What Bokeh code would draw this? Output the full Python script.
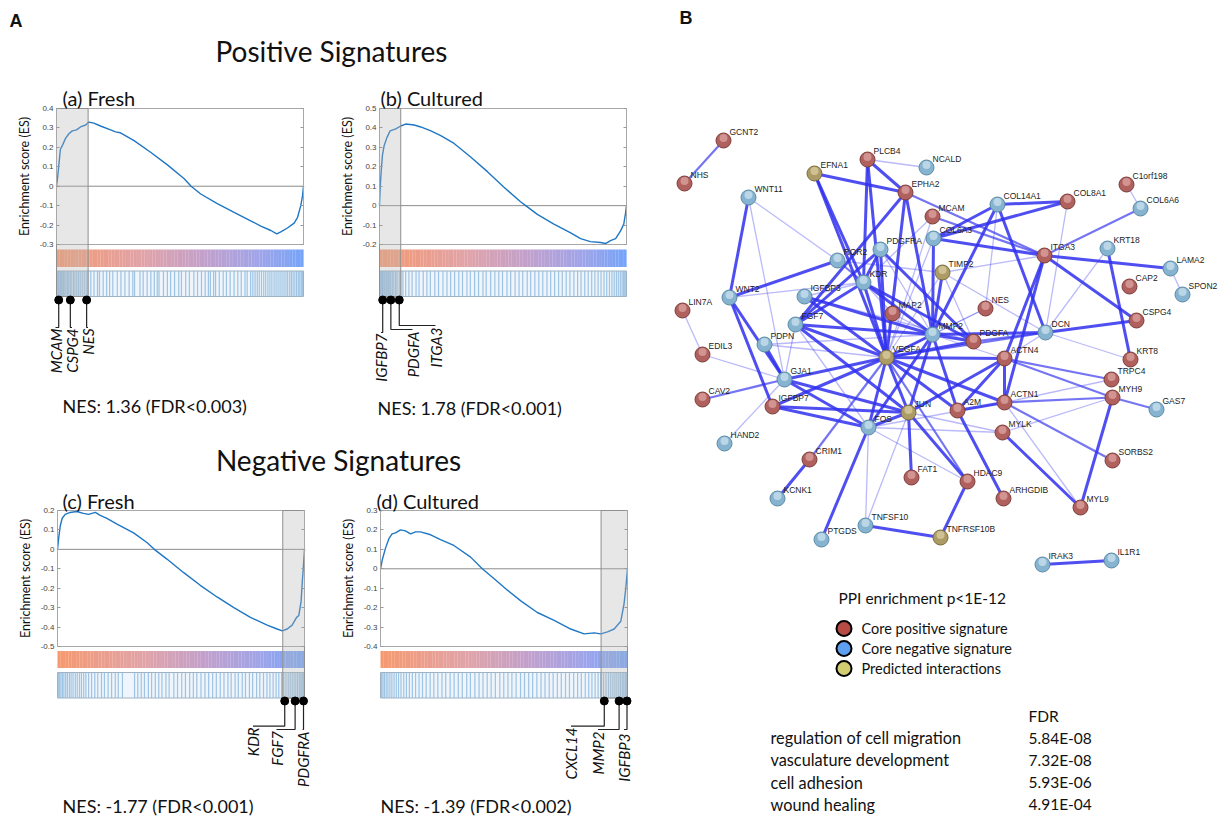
import math
from bokeh.plotting import figure
from bokeh.models import Range1d, LinearAxis, FixedTicker
from bokeh.core.properties import value
from bokeh.embed import file_html
from bokeh.resources import INLINE

W, H = 1225, 817
CAL = "Lato"
ARI = "Liberation Sans"

# ---------------- GSEA running enrichment scores (rank % of ordered list, ES) ----------------
a_rank = [0, 0.5, 1.1, 1.6, 2.4, 3.6, 5.0, 6.4, 8.1, 9.7, 11.8, 13.1, 15.1, 17.8, 21.9, 23.9, 25.9, 31.4,
          38.1, 44.9, 51.6, 54.5, 58.4, 65.1, 71.9, 78.6, 82.7, 86.8, 89.2, 90.8, 93.5, 96.2, 97.6, 98.9, 99.6, 100]
a_es = [0, 0.05, 0.13, 0.19, 0.21, 0.245, 0.27, 0.285, 0.29, 0.305, 0.315, 0.33, 0.325, 0.31, 0.29, 0.28, 0.275, 0.235,
        0.175, 0.11, 0.04, 0.0, -0.04, -0.09, -0.135, -0.178, -0.205, -0.228, -0.245, -0.235, -0.215, -0.19, -0.16, -0.1, -0.05, 0]

b_rank = [0, 0.3, 0.7, 1.2, 1.9, 3.0, 4.3, 6.6, 8.6, 10.6, 14.0, 16.7, 20.8, 24.8, 30.2, 36.9, 43.7, 50.4, 57.1,
          59.2, 63.9, 70.6, 77.4, 81.4, 85.4, 89.5, 91.5, 93.5, 95.6, 97.6, 98.9, 99.6, 100]
b_es = [0, 0.10, 0.18, 0.26, 0.31, 0.35, 0.385, 0.395, 0.41, 0.42, 0.415, 0.405, 0.385, 0.36, 0.32, 0.25, 0.175, 0.095, 0.02,
        0.0, -0.045, -0.095, -0.14, -0.17, -0.185, -0.19, -0.195, -0.18, -0.17, -0.13, -0.095, -0.04, 0]

c_rank = [0, 0.4, 1.1, 1.9, 3.1, 5.1, 7.8, 10.5, 12.6, 15.3, 17.3, 20.0, 24.1, 30.8, 36.2, 39.2, 44.3, 51.1, 57.8,
          64.6, 71.4, 78.1, 84.9, 88.9, 91.0, 93.0, 95.0, 96.8, 97.7, 98.6, 99.2, 99.5, 100]
c_es = [0, 0.05, 0.12, 0.16, 0.18, 0.19, 0.195, 0.185, 0.18, 0.19, 0.175, 0.16, 0.13, 0.085, 0.035, 0.0, -0.05, -0.12, -0.185,
        -0.245, -0.30, -0.35, -0.39, -0.41, -0.42, -0.41, -0.39, -0.35, -0.34, -0.27, -0.15, -0.1, 0]

d_rank = [0, 0.7, 2.0, 3.4, 4.7, 6.1, 8.1, 10.1, 12.2, 14.2, 16.2, 20.3, 24.3, 29.7, 36.5, 41.2, 45.9, 51.4, 56.8,
          63.5, 70.3, 77.0, 82.4, 86.5, 89.2, 91.9, 94.6, 97.3, 98.6, 99.3, 100]
d_es = [0, 0.045, 0.105, 0.155, 0.18, 0.185, 0.2, 0.195, 0.18, 0.19, 0.19, 0.175, 0.15, 0.12, 0.06, 0.0, -0.05, -0.11, -0.165,
        -0.225, -0.265, -0.31, -0.335, -0.33, -0.335, -0.325, -0.31, -0.27, -0.18, -0.1, 0]

# gene-set hit positions (rank %)
a_hits = [0.3, 0.7, 1.1, 1.6, 2.0, 2.5, 2.9, 3.4, 3.9, 4.5, 5.0, 5.6, 6.2, 6.9, 7.5, 8.2, 8.9, 9.6, 10.4, 11.2, 12.0, 12.7,
          13.9, 15.2, 16.6, 17.4, 18.9, 20.3, 21.5, 22.8, 24.6, 26.1, 27.7, 29.4, 30.9, 31.6, 33.8, 35.1, 36.7, 38.2,
          39.6, 40.8, 41.5, 43.3, 44.9, 46.2, 47.8, 49.5, 50.6, 52.3, 53.8, 55.6, 57.1, 58.7, 60.2, 61.5, 62.3, 63.6,
          64.4, 65.9, 67.5, 68.8, 70.3, 71.9, 73.4, 74.8, 76.3, 77.2, 78.6, 79.5, 80.4, 81.3, 82.1, 83.0, 83.9, 84.7,
          85.6, 86.4, 87.2, 88.1, 88.9, 89.7, 90.5, 91.3, 92.1, 92.9, 93.6, 94.4, 95.1, 95.8, 96.5, 97.2, 97.9, 98.5, 99.1, 99.6]
b_hits = [0.2, 0.6, 1.0, 1.3, 1.8, 2.2, 2.7, 3.1, 3.6, 4.1, 4.6, 5.2, 5.8, 6.5, 7.1, 8.0, 8.7, 9.5, 10.6, 11.9, 13.2,
          14.8, 16.0, 17.7, 19.2, 20.6, 22.4, 23.9, 25.7, 27.3, 28.8, 30.4, 32.1, 33.6, 35.4, 36.8, 38.5, 40.1, 41.9,
          43.2, 45.0, 46.7, 48.3, 49.8, 51.6, 53.1, 54.9, 56.5, 58.0, 59.8, 61.2, 62.9, 64.5, 66.1, 67.8, 69.3, 70.9,
          72.5, 74.0, 75.6, 77.1, 78.7, 80.2, 81.6, 83.1, 84.5, 85.9, 87.2, 88.5, 89.7, 90.9, 92.0, 93.1, 94.1, 95.0,
          95.9, 96.7, 97.5, 98.2, 98.8, 99.3, 99.8]
c_hits = [0.3, 0.8, 1.4, 2.0, 2.6, 3.3, 4.0, 4.8, 5.5, 6.3, 7.2, 8.0, 8.9, 9.7, 10.6, 11.5, 12.6, 13.8, 15.1, 16.3,
          17.8, 19.0, 20.5, 21.9, 23.4, 24.6, 26.3, 31.2, 32.5, 33.9, 35.2, 36.8, 38.1, 39.6, 41.0, 42.3, 43.9, 45.2,
          47.1, 48.6, 50.3, 51.8, 53.5, 55.0, 56.4, 58.1, 59.7, 61.2, 62.8, 64.3, 65.9, 67.4, 69.0, 70.3, 71.9, 73.2,
          74.8, 76.1, 77.7, 79.0, 80.6, 81.9, 83.4, 84.8, 86.0, 87.3, 88.5, 89.6, 90.7, 91.6, 92.5, 93.4, 94.2, 95.0,
          95.8, 96.5, 97.2, 97.9, 98.5, 99.0, 99.5, 99.9]
d_hits = [0.4, 1.0, 1.6, 2.3, 3.0, 3.8, 4.6, 5.5, 6.4, 7.3, 8.3, 9.4, 10.5, 11.7, 12.9, 14.2, 15.6, 17.0, 18.5, 20.1,
          21.6, 23.2, 24.9, 26.4, 28.2, 29.8, 31.5, 33.1, 34.9, 36.4, 38.2, 39.9, 41.5, 43.2, 44.8, 46.5, 48.3, 49.9,
          51.6, 53.2, 54.9, 56.7, 58.3, 60.0, 61.6, 63.3, 65.0, 66.6, 68.3, 69.9, 71.6, 73.2, 74.9, 76.5, 78.2, 79.8,
          81.3, 82.9, 84.3, 85.6, 86.9, 88.1, 89.2, 90.3, 91.3, 92.3, 93.2, 94.1, 94.9, 95.7, 96.5, 97.2, 97.9, 98.5, 99.1, 99.6]

a_genes, a_gene_rank = ["MCAM", "CSPG4", "NES"], [0.9, 5.6, 12.2]
b_genes, b_gene_rank = ["IGFBP7", "PDGFA", "ITGA3"], [1.3, 4.6, 8.0]
c_genes, c_gene_rank = ["KDR", "FGF7", "PDGFRA"], [92.0, 96.2, 99.6]
d_genes, d_gene_rank = ["CXCL14", "MMP2", "IGFBP3"], [90.6, 96.6, 99.8]

a_lead = [0, 12.8]
b_lead = [0, 8.6]
c_lead = [91.2, 100]
d_lead = [89.3, 100]

titles = ["(a) Fresh", "(b) Cultured", "(c) Fresh", "(d) Cultured"]
nes_texts = ["NES: 1.36 (FDR<0.003)", "NES: 1.78 (FDR<0.001)", "NES: -1.77 (FDR<0.001)", "NES: -1.39 (FDR<0.002)"]
es_limits = [(0.4, -0.3), (0.5, -0.2), (0.2, -0.5), (0.3, -0.4)]

# ---------------- network ----------------
node_name = ["GCNT2", "NHS", "PLCB4", "NCALD", "EFNA1", "EPHA2", "C1orf198", "WNT11", "COL14A1", "COL8A1", "COL6A6",
             "MCAM", "COL6A3", "PDGFRA", "ROR2", "TIMP2", "ITGA3", "KRT18", "LAMA2", "KDR", "WNT2", "IGFBP3", "LIN7A",
             "CAP2", "SPON2", "MAP2", "FGF7", "NES", "MMP2", "PDGFA", "DCN", "CSPG4", "PDPN", "VEGFA", "ACTN4", "EDIL3",
             "KRT8", "GJA1", "TRPC4", "MYH9", "CAV2", "IGFBP7", "JUN", "A2M", "ACTN1", "FOS", "MYLK", "GAS7", "HAND2",
             "CRIM1", "HDAC9", "FAT1", "SORBS2", "ARHGDIB", "KCNK1", "MYL9", "TNFSF10", "TNFRSF10B", "PTGDS", "IRAK3", "IL1R1"]
node_x = [723, 684, 867, 926, 814, 905, 1126, 748, 997, 1067, 1140,
          932, 933, 880, 837, 942, 1044, 1107, 1170, 863, 729, 804, 682,
          1129, 1182, 892, 795, 985, 932, 973, 1045, 1136, 764, 886, 1004, 702,
          1130, 784, 1111, 1112, 702, 772, 908, 957, 1004, 868, 1002, 1156, 724,
          809, 967, 911, 1112, 1003, 777, 1080, 865, 940, 821, 1042, 1111]
node_y = [140, 183, 159, 167, 173, 192, 184, 197, 204, 201, 208,
          216, 238, 249, 260, 272, 255, 248, 268, 282, 297, 296, 310,
          286, 294, 313, 324, 308, 334, 341, 332, 320, 344, 357, 358, 354,
          359, 379, 379, 397, 399, 406, 412, 410, 402, 427, 432, 409, 443,
          459, 481, 477, 460, 498, 498, 507, 525, 537, 539, 564, 560]
node_group = ["pos", "pos", "pos", "neg", "pred", "pos", "pos", "neg", "neg", "pos", "neg",
              "pos", "neg", "neg", "neg", "pred", "pos", "neg", "neg", "neg", "neg", "neg", "pos",
              "pos", "neg", "pos", "neg", "pos", "neg", "pos", "neg", "pos", "neg", "pred", "pos", "pos",
              "pos", "neg", "pos", "pos", "pos", "pos", "pred", "pos", "pos", "neg", "pos", "neg", "neg",
              "pos", "pos", "pos", "pos", "pos", "neg", "pos", "neg", "pred", "neg", "neg", "neg"]

edges_strong = [
    ("PLCB4", "EPHA2"), ("PLCB4", "KDR"), ("PLCB4", "VEGFA"), ("EFNA1", "EPHA2"), ("EFNA1", "KDR"), ("EFNA1", "VEGFA"),
    ("EPHA2", "VEGFA"), ("EPHA2", "FGF7"), ("EPHA2", "MMP2"), ("WNT11", "WNT2"), ("WNT2", "ROR2"), ("WNT2", "GJA1"),
    ("WNT2", "IGFBP7"), ("PDGFRA", "VEGFA"), ("PDGFRA", "PDGFA"), ("PDGFRA", "FGF7"), ("PDGFRA", "KDR"),
    ("KDR", "VEGFA"), ("KDR", "MMP2"), ("KDR", "PDGFA"), ("KDR", "FGF7"), ("IGFBP3", "MMP2"), ("IGFBP3", "VEGFA"),
    ("FGF7", "VEGFA"), ("FGF7", "JUN"), ("FGF7", "MMP2"), ("PDPN", "GJA1"), ("GJA1", "VEGFA"), ("GJA1", "JUN"),
    ("GJA1", "FOS"), ("IGFBP7", "FOS"), ("IGFBP7", "JUN"), ("IGFBP7", "VEGFA"), ("CRIM1", "KCNK1"), ("FOS", "PTGDS"),
    ("FOS", "JUN"), ("FOS", "VEGFA"), ("FOS", "MMP2"), ("JUN", "FAT1"), ("JUN", "HDAC9"), ("JUN", "VEGFA"),
    ("JUN", "MMP2"), ("JUN", "ACTN4"), ("TNFSF10", "TNFRSF10B"), ("TNFRSF10B", "HDAC9"), ("A2M", "ARHGDIB"),
    ("A2M", "ACTN1"), ("A2M", "ACTN4"), ("A2M", "MMP2"), ("A2M", "VEGFA"), ("ACTN4", "ACTN1"), ("ACTN4", "VEGFA"),
    ("ACTN4", "ITGA3"), ("ACTN1", "ITGA3"), ("ACTN1", "VEGFA"), ("MYLK", "MYL9"), ("MYH9", "MYL9"), ("DCN", "CSPG4"),
    ("DCN", "COL14A1"), ("DCN", "MMP2"), ("ITGA3", "LAMA2"), ("ITGA3", "CSPG4"), ("ITGA3", "COL6A3"), ("KRT18", "KRT8"),
    ("COL14A1", "COL8A1"), ("COL14A1", "COL6A3"), ("COL14A1", "MMP2"), ("COL8A1", "COL6A3"), ("COL6A3", "MMP2"),
    ("TIMP2", "MMP2"), ("MMP2", "VEGFA"), ("MMP2", "PDGFA"), ("PDGFA", "VEGFA"), ("IRAK3", "IL1R1")]
edges_medium = [
    ("GCNT2", "NHS"), ("CAV2", "GJA1"), ("CRIM1", "VEGFA"), ("ACTN4", "TRPC4"), ("ACTN4", "MYH9"), ("ACTN1", "MYH9"),
    ("ACTN1", "SORBS2"), ("MYH9", "GAS7"), ("ITGA3", "COL6A6"), ("ROR2", "KDR"), ("EPHA2", "ITGA3"), ("MCAM", "ITGA3"),
    ("PDGFA", "DCN"), ("VEGFA", "DCN"), ("HDAC9", "VEGFA")]
edges_weak = [
    ("PLCB4", "NCALD"), ("WNT11", "ROR2"), ("WNT11", "GJA1"), ("WNT2", "KDR"), ("LIN7A", "EDIL3"), ("EDIL3", "GJA1"),
    ("HAND2", "GJA1"), ("PDPN", "VEGFA"), ("PDPN", "MMP2"), ("FGF7", "FOS"), ("FGF7", "GJA1"), ("IGFBP3", "KDR"),
    ("IGFBP3", "PDGFA"), ("FOS", "TNFSF10"), ("JUN", "TNFSF10"), ("FOS", "ACTN1"), ("FOS", "MYLK"), ("JUN", "MYLK"),
    ("ACTN1", "TRPC4"), ("ACTN1", "MYL9"), ("MYLK", "MYH9"), ("DCN", "KRT8"), ("DCN", "KRT18"), ("COL8A1", "DCN"),
    ("TIMP2", "DCN"), ("TIMP2", "ITGA3"), ("TIMP2", "VEGFA"), ("TIMP2", "PDGFA"), ("COL14A1", "NES"), ("LAMA2", "SPON2"),
    ("C1orf198", "COL6A6"), ("MCAM", "VEGFA"), ("MCAM", "KDR"), ("ROR2", "TIMP2"), ("MAP2", "MMP2"), ("MAP2", "VEGFA"),
    ("NES", "MMP2"), ("NES", "VEGFA"), ("COL6A3", "VEGFA"), ("PDGFRA", "MMP2"), ("FOS", "HDAC9"), ("ACTN4", "DCN"),
    ("MMP2", "ACTN4"), ("MAP2", "KDR")]

legend_labels = ["Core positive signature", "Core negative signature", "Predicted interactions"]
go_terms = ["regulation of cell migration", "vasculature development", "cell adhesion", "wound healing"]
go_fdr = ["5.84E-08", "7.32E-08", "5.93E-06", "4.91E-04"]

# ---------------- figure ----------------
p = figure(width=W, height=H, x_range=Range1d(0, W), y_range=Range1d(H, 0), output_backend="svg",
           toolbar_location=None, x_axis_type=None, y_axis_type=None, min_border=0)
p.outline_line_color = None
p.background_fill_color = "white"
p.border_fill_color = "white"


def txt(x, y, s, size, font=CAL, align="left", baseline="middle", color="#111111", style="normal", angle=0.0, **kw):
    p.text(x=[x], y=[y], text=[s], text_font=value(font), text_font_size=f"{size}px", text_align=align,
           text_baseline=baseline, text_color=color, text_font_style=style, angle=angle, **kw)


def cb_color(t):
    stops = [(0.0, (246, 153, 112)), (0.35, (224, 163, 168)), (0.6, (194, 160, 204)), (0.82, (160, 164, 232)),
             (1.0, (118, 164, 248))]
    for (t0, c0), (t1, c1) in zip(stops[:-1], stops[1:]):
        if t <= t1:
            f = (t - t0) / (t1 - t0)
            return "#%02x%02x%02x" % tuple(int(round(c0[i] + f * (c1[i] - c0[i]))) for i in range(3))
    return "#%02x%02x%02x" % stops[-1][1]


# layout of the four panels (page pixels)
panel_layout = [
    dict(key="a", box=(56, 303, 108, 244), cb=(249, 266.5), bc=(270.5, 296), dot=299.5, title=(62, 97), nes=(62, 405),
         labels=[(55, 327, 328), (71.5, 327, 328), (87.5, 327, 328)]),
    dict(key="b", box=(379, 626, 108, 244), cb=(249, 266.5), bc=(270.5, 296), dot=299.5, title=(380, 97), nes=(377, 407),
         labels=[(380.5, 332, 333), (412, 329, 331), (435, 325, 327)]),
    dict(key="c", box=(57, 304, 510, 646), cb=(650.5, 667.5), bc=(672, 697.5), dot=700.5, title=(62, 500), nes=(62, 805),
         labels=[(252.5, 725.7, 727), (276, 729, 730.5), (302, 729, 731)]),
    dict(key="d", box=(380, 627, 510, 646), cb=(650.5, 667.5), bc=(672, 697.5), dot=700.5, title=(376, 500), nes=(380, 805),
         labels=[(570.5, 725.7, 727), (597.5, 729, 731), (623.5, 729, 733)]),
]
curves = [(a_rank, a_es), (b_rank, b_es), (c_rank, c_es), (d_rank, d_es)]
hits_all = [a_hits, b_hits, c_hits, d_hits]
genes_all = [(a_genes, a_gene_rank), (b_genes, b_gene_rank), (c_genes, c_gene_rank), (d_genes, d_gene_rank)]
leads = [a_lead, b_lead, c_lead, d_lead]

p.extra_x_ranges = {}
p.extra_y_ranges = {}
for i, L in enumerate(panel_layout):
    key = L["key"]
    x0, x1, y0, y1 = L["box"]
    es_top, es_bot = es_limits[i]
    kx = 100.0 / (x1 - x0)
    ky = (es_top - es_bot) / (y1 - y0)
    px2r = lambda px, x0=x0, kx=kx: (px - x0) * kx
    py2e = lambda py, y0=y0, ky=ky, t=es_top: t - (py - y0) * ky
    p.extra_x_ranges[key] = Range1d(px2r(0), px2r(W))
    p.extra_y_ranges[key] = Range1d(py2e(H), py2e(0))
    kw = dict(x_range_name=key, y_range_name=key)

    # colour bar
    n = 90
    p.quad(left=[100.0 * j / n for j in range(n)], right=[100.0 * (j + 1) / n + 0.05 for j in range(n)],
           top=py2e(L["cb"][0]), bottom=py2e(L["cb"][1]), fill_color=[cb_color(j / (n - 1)) for j in range(n)],
           line_color=None, **kw)
    # barcode
    hits = hits_all[i]
    p.quad(left=[0], right=[100], top=[py2e(L["bc"][0])], bottom=[py2e(L["bc"][1])], fill_color="#e4eff8",
           fill_alpha=0.6, line_color=None, **kw)
    p.segment(x0=hits, y0=[py2e(L["bc"][0])] * len(hits), x1=hits, y1=[py2e(L["bc"][1])] * len(hits),
              line_color="#5b9bd0", line_alpha=0.55, line_width=1.2, **kw)
    p.quad(left=[0], right=[100], top=[py2e(L["bc"][0])], bottom=[py2e(L["bc"][1])], fill_color=None,
           line_color="#9fb3c4", line_width=1, **kw)
    # box top/bottom and zero line
    p.segment(x0=[0, 0], x1=[100, 100], y0=[es_top, es_bot], y1=[es_top, es_bot], line_color="#a8a8a8",
              line_width=1, **kw)
    p.segment(x0=[0], x1=[100], y0=[0], y1=[0], line_color="#8c8c8c", line_width=1, **kw)
    # ES curve
    rk, es = curves[i]
    p.line(rk, es, line_color="#1f77c4", line_width=1.4, **kw)
    # leading-edge shading
    lo, hi = leads[i]
    p.quad(left=[lo], right=[hi], top=[es_top], bottom=[py2e(L["bc"][1])], fill_color="#b5b5b5", fill_alpha=0.33,
           line_color="#8f8f8f", line_width=1, **kw)
    # axes
    ticks = [round(es_bot + 0.1 * k, 1) for k in range(int(round((es_top - es_bot) * 10)) + 1)]
    overrides = {t: ("0" if abs(t) < 1e-9 else f"{t:g}") for t in ticks}
    lax = LinearAxis(y_range_name=key, fixed_location=x0, bounds=(es_bot, es_top), ticker=FixedTicker(ticks=ticks),
                     major_label_overrides=overrides, axis_label="Enrichment score (ES)",
                     axis_label_text_font=CAL, axis_label_text_font_style="normal", axis_label_text_font_size="12.5px",
                     axis_label_text_color="#111111", axis_label_standoff=5,
                     major_label_text_font=ARI, major_label_text_font_size="8px", major_label_text_color="#444444",
                     major_label_standoff=3, major_tick_in=3, major_tick_out=0, major_tick_line_color="#999999",
                     minor_tick_line_color=None, axis_line_color="#a8a8a8")
    p.add_layout(lax, "left")
    rax = LinearAxis(y_range_name=key, fixed_location=x1, bounds=(es_bot, es_top), ticker=FixedTicker(ticks=ticks),
                     major_label_text_alpha=0, major_label_text_font_size="1px", major_tick_in=3, major_tick_out=0,
                     major_tick_line_color="#999999", minor_tick_line_color=None, axis_line_color="#a8a8a8")
    p.add_layout(rax, "right")

    # core genes: dots, leaders, labels
    names, granks = genes_all[i]
    dy = py2e(L["dot"])
    xs, ys = [], []
    for g, gr, (lx, ey, ty) in zip(names, granks, L["labels"]):
        xs.append([gr, gr, px2r(lx)])
        ys.append([dy, py2e(ey), py2e(ey)])
        txt(px2r(lx), py2e(ty), g, 15, style="italic", align="right", angle=math.pi / 2, **kw)
    p.multi_line(xs, ys, line_color="#222222", line_width=1.2, **kw)
    p.scatter(granks, [dy] * len(granks), size=8, marker="circle", fill_color="black", line_color="black", **kw)

    txt(L["title"][0], L["title"][1], titles[i], 20)
    txt(L["nes"][0], L["nes"][1], nes_texts[i], 18)

# headers
txt(9, 20, "A", 18, font=ARI, style="bold")
txt(679, 17, "B", 18, font=ARI, style="bold")
txt(331, 50, "Positive Signatures", 28, align="center")
txt(338, 459, "Negative Signatures", 28, align="center")

# ---------------- network ----------------
pos = {n: (x, y) for n, x, y in zip(node_name, node_x, node_y)}
for elist, lw, alpha, col in [(edges_weak, 1.3, 0.38, "#4a4af2"), (edges_medium, 2.2, 0.7, "#3a3af0"),
                              (edges_strong, 3.0, 0.85, "#3030ee")]:
    p.segment(x0=[pos[a][0] for a, b in elist], y0=[pos[a][1] for a, b in elist],
              x1=[pos[b][0] for a, b in elist], y1=[pos[b][1] for a, b in elist],
              line_color=col, line_width=lw, line_alpha=alpha)

fill = {"pos": "#b0605d", "neg": "#86b3cf", "pred": "#ad9b66"}
edge = {"pos": "#7c3e3b", "neg": "#5b8aa6", "pred": "#7a6a3e"}
light = {"pos": "#e3b0ae", "neg": "#d6e9f4", "pred": "#e2d6ad"}
p.scatter(node_x, node_y, size=15, marker="circle", fill_color=[fill[g] for g in node_group],
          line_color=[edge[g] for g in node_group], line_width=1)
p.scatter(node_x, [y - 2.5 for y in node_y], size=8, marker="circle", fill_color=[light[g] for g in node_group],
          fill_alpha=0.65, line_color=None)
p.text(x=[x + 6 for x in node_x], y=[y - 9 for y in node_y], text=node_name, text_font=value(ARI),
       text_font_size="8.5px", text_align="left", text_baseline="middle", text_color="#222222")

# legend
txt(838, 597, "PPI enrichment p<1E-12", 15.5)
leg_fill = ["#b84b46", "#5e9ff2", "#d3cd72"]
leg_y = [628, 648, 668]
p.scatter([843.5] * 3, leg_y, size=15, marker="circle", fill_color=leg_fill, line_color="black", line_width=2)
for lab, yy in zip(legend_labels, leg_y):
    txt(861, yy, lab, 14.5)

# enrichment table
txt(1028, 715, "FDR", 15.5)
for k, (term, fdr) in enumerate(zip(go_terms, go_fdr)):
    yy = 737 + k * 22.3
    txt(770, yy, term, 16.3)
    txt(1028, yy, fdr, 15.5)

open("out.html", "w").write(file_html(p, INLINE))
